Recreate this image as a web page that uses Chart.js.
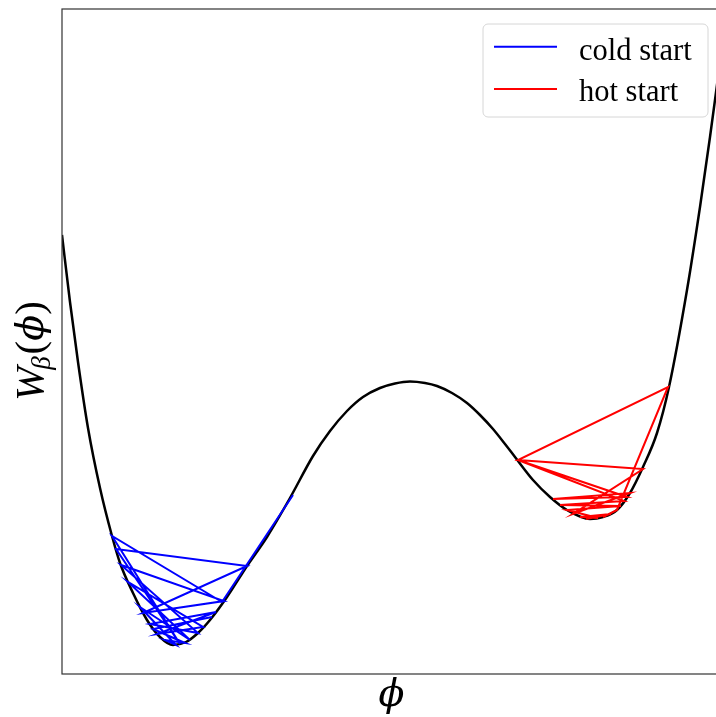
<!DOCTYPE html>
<html>
<head>
<meta charset="utf-8">
<script src="https://cdn.jsdelivr.net/npm/chart.js@4.4.1/dist/chart.umd.min.js"></script>
<style>
    html, body { margin: 0; padding: 0; overflow: hidden; background: #fff; }
    #wrap { width: 727px; height: 717px; position: relative; }
</style>
</head>
<body>
<div id="wrap"><canvas id="potentialChart"></canvas></div>
<script>
// 势能曲线 W_β(φ) 与两条马尔可夫链轨迹（单位：任意，无刻度）

// 黑色势能曲线
const curveX = [0, 8, 16, 26, 38, 50, 58, 71, 85, 98, 111, 124, 136, 148, 165, 185, 205, 228,
    251, 268, 285, 301, 318, 333, 348, 363, 375, 390, 405, 418, 431, 443, 453, 471, 488, 505,
    528, 541, 555, 568, 581, 595, 607, 625, 638, 648, 655, 665];
const curveY = [439, 372, 312, 246, 186, 138, 111, 81, 54, 37, 29, 32, 41, 54, 77, 108, 137, 176,
    218, 243, 263, 277, 286, 290.5, 292.5, 291, 288, 281, 271, 259, 245, 230, 217, 194, 177, 164,
    155, 157, 164, 181, 207, 241, 287, 384, 467, 537, 589, 664];

// cold start 轨迹
const coldX = [231, 160, 50, 118, 54, 185, 81, 162, 59, 136, 88, 154, 95, 141, 66, 128, 78, 114, 103, 123, 91, 150];
const coldY = [179, 72, 138, 30, 125, 108, 61, 73, 109, 41, 50, 62, 40, 47, 92, 34, 67, 29, 34, 31, 45, 57];

// hot start 轨迹
const hotX = [541, 555, 606, 456, 581, 511, 568, 491, 565, 456, 562, 498, 559, 505, 536, 518, 549, 524];
const hotY = [157, 164, 287, 214, 205, 160, 181, 175, 177, 214, 173, 169, 168, 164, 156, 157, 160, 155];

const seriesLabels = ['cold start', 'hot start'];
const axisMax = 665;

function toPoints(xs, ys) {
    return xs.map((x, i) => ({ x: x, y: ys[i] }));
}

// 边框、坐标轴标题和图例
const decorPlugin = {
    id: 'decor',
    afterDraw(chart) {
        const ctx = chart.ctx;
        const area = chart.chartArea;
        ctx.save();

        // 边框
        ctx.strokeStyle = '#333';
        ctx.lineWidth = 1.2;
        ctx.strokeRect(area.left, area.top, area.right - area.left, area.bottom - area.top);

        // x 轴标题
        ctx.fillStyle = '#000';
        ctx.textAlign = 'center';
        ctx.textBaseline = 'alphabetic';
        ctx.font = 'italic 38px "DejaVu Serif", "Liberation Serif", serif';
        ctx.fillText('\u03D5', (area.left + area.right) / 2 - 3, 706);

        // y 轴标题 W_β(φ)
        ctx.save();
        ctx.translate(43, 401);
        ctx.rotate(-Math.PI / 2);
        ctx.textAlign = 'left';
        let pos = 0;
        ctx.font = 'italic 41px "Liberation Serif", serif';
        ctx.fillText('W', pos, 0);
        pos += ctx.measureText('W').width - 3;
        ctx.font = 'italic 27px "Liberation Serif", serif';
        ctx.fillText('\u03B2', pos, 7);
        pos += ctx.measureText('\u03B2').width + 2;
        ctx.font = '41px "Liberation Serif", serif';
        ctx.fillText('(', pos, 0);
        pos += ctx.measureText('(').width;
        ctx.font = 'italic 38px "DejaVu Serif", "Liberation Serif", serif';
        ctx.fillText('\u03D5', pos, 0);
        pos += ctx.measureText('\u03D5').width;
        ctx.font = '41px "Liberation Serif", serif';
        ctx.fillText(')', pos, 0);
        ctx.restore();

        // 图例
        const box = { x: 483, y: 24, w: 225, h: 93, r: 5 };
        ctx.beginPath();
        ctx.roundRect(box.x, box.y, box.w, box.h, box.r);
        ctx.fillStyle = 'rgba(255,255,255,0.85)';
        ctx.fill();
        ctx.strokeStyle = '#d6d6d6';
        ctx.lineWidth = 1;
        ctx.stroke();

        const rows = [46.7, 89];
        const baselines = [60, 101];
        chart.data.datasets.slice(1).forEach((ds, i) => {
            ctx.beginPath();
            ctx.moveTo(494, rows[i]);
            ctx.lineTo(557, rows[i]);
            ctx.strokeStyle = ds.borderColor;
            ctx.lineWidth = 2;
            ctx.stroke();
            ctx.fillStyle = '#000';
            ctx.textAlign = 'left';
            ctx.font = '30.5px "Liberation Serif", serif';
            ctx.fillText(ds.label, 579, baselines[i]);
        });
        ctx.restore();
    }
};

function initializePotentialChart() {
    const ctx = document.getElementById('potentialChart').getContext('2d');

    new Chart(ctx, {
        type: 'scatter',
        data: {
            datasets: [{
                label: 'W',
                data: toPoints(curveX, curveY),
                showLine: true,
                borderColor: '#000',
                borderWidth: 2.5,
                pointRadius: 0,
                cubicInterpolationMode: 'monotone',
                order: 3
            }, {
                label: seriesLabels[0],
                data: toPoints(coldX, coldY),
                showLine: true,
                borderColor: '#0000ff',
                borderWidth: 2,
                pointRadius: 0,
                tension: 0,
                order: 2
            }, {
                label: seriesLabels[1],
                data: toPoints(hotX, hotY),
                showLine: true,
                borderColor: '#ff0000',
                borderWidth: 2,
                pointRadius: 0,
                tension: 0,
                order: 1
            }]
        },
        options: {
            responsive: true,
            maintainAspectRatio: false,
            animation: false,
            layout: {
                padding: { left: 62, top: 9, right: 0, bottom: 43 }
            },
            plugins: {
                legend: { display: false },
                tooltip: { enabled: false }
            },
            scales: {
                x: { type: 'linear', min: 0, max: axisMax, display: false },
                y: { type: 'linear', min: 0, max: axisMax, display: false }
            }
        },
        plugins: [decorPlugin]
    });
}

initializePotentialChart();
</script>
</body>
</html>
